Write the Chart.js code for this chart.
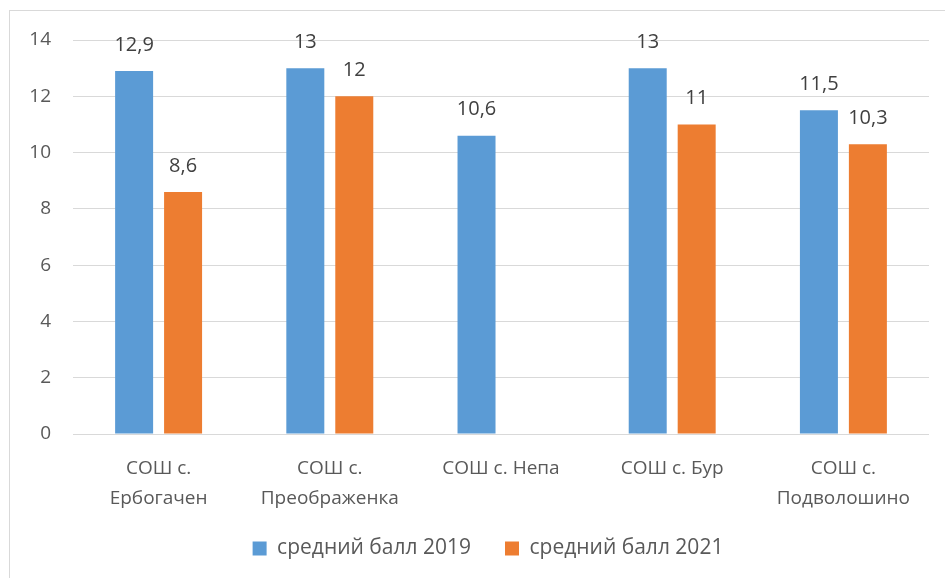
<!DOCTYPE html>
<html>
<head>
<meta charset="utf-8">
<script src="https://cdn.jsdelivr.net/npm/chart.js@4"></script>
<style>
  html, body { margin: 0; padding: 0; background: #fff; }
  #wrap { position: relative; width: 945px; height: 578px; overflow: hidden; }
  #frame { position: absolute; left: 9px; top: 10px; width: 1000px; height: 1000px;
           border-left: 1px solid #d9d9d9; border-top: 1px solid #d9d9d9; }
  canvas { position: absolute; left: 0; top: 0; }
</style>
</head>
<body>
<div id="wrap">
  <div id="frame"></div>
  <canvas id="myChart" width="945" height="578"></canvas>
</div>
<script>
const schools = [
    ["СОШ с.", "Ербогачен"],
    ["СОШ с.", "Преображенка"],
    "СОШ с. Непа",
    "СОШ с. Бур",
    ["СОШ с.", "Подволошино"]
];
const score2019 = [12.9, 13, 10.6, 13, 11.5];
const score2021 = [8.6, 12, null, 11, 10.3];
const yTicks = [0, 2, 4, 6, 8, 10, 12, 14];

const fontFamily = "'Open Sans', 'Noto Sans', sans-serif";

// подписи значений над столбцами
const barLabels = {
    id: 'barLabels',
    afterDatasetsDraw(chart) {
        const ctx = chart.ctx;
        ctx.save();
        ctx.font = "20px " + fontFamily;
        ctx.fillStyle = '#404040';
        ctx.textAlign = 'center';
        ctx.textBaseline = 'middle';
        chart.data.datasets.forEach((ds, di) => {
            const meta = chart.getDatasetMeta(di);
            meta.data.forEach((bar, i) => {
                const v = ds.data[i];
                if (v === null || v === undefined) return;
                ctx.fillText(String(v).replace('.', ','), bar.x, bar.y - 26);
            });
        });
        ctx.restore();
    }
};

const ctx = document.getElementById('myChart');
const chart = new Chart(ctx, {
    type: 'bar',
    data: {
        labels: schools,
        datasets: [
            {
                label: 'средний балл 2019',
                data: score2019,
                backgroundColor: '#5B9BD5',
                categoryPercentage: 0.572,
                barPercentage: 0.776
            },
            {
                label: 'средний балл 2021',
                data: score2021,
                backgroundColor: '#ED7D31',
                categoryPercentage: 0.572,
                barPercentage: 0.776
            }
        ]
    },
    options: {
        responsive: false,
        animation: false,
        layout: {
            padding: { left: 47, right: 16, top: 40, bottom: 9 }
        },
        scales: {
            x: {
                grid: { display: false },
                border: { display: false },
                ticks: {
                    color: '#595959',
                    font: { family: fontFamily, size: 19, lineHeight: '30px' },
                    maxRotation: 0,
                    autoSkip: false,
                    padding: 12
                },
                afterFit: (scale) => {
                    scale.height = 70;
                    // не обрезать вторую строку подписи
                    scale._computeLabelArea = () => undefined;
                }
            },
            y: {
                min: 0,
                max: 14,
                afterBuildTicks: (scale) => { scale.ticks = yTicks.map(v => ({ value: v })); },
                grid: { color: '#d9d9d9', drawTicks: false },
                border: { display: false },
                ticks: {
                    color: '#595959',
                    font: { family: fontFamily, size: 19 },
                    padding: 22
                },
                afterFit: (scale) => {
                    scale.width = 26;
                    scale._computeLabelArea = () => undefined;
                }
            }
        },
        plugins: {
            legend: {
                position: 'bottom',
                labels: {
                    color: '#595959',
                    font: { family: fontFamily, size: 21 },
                    boxWidth: 14,
                    boxHeight: 14,
                    padding: 34
                }
            },
            tooltip: { enabled: false }
        }
    },
    plugins: [barLabels]
});
</script>
</body>
</html>
